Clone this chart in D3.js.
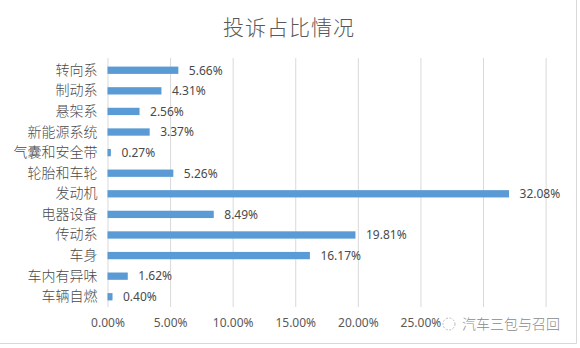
<!DOCTYPE html>
<html>
<head>
<meta charset="utf-8">
<script src="https://cdn.jsdelivr.net/npm/d3@7"></script>
<style>
  html, body { margin: 0; padding: 0; background: #fff; }
  svg { display: block; }
</style>
</head>
<body>
<svg id="chart" width="580" height="348"></svg>
<script>
// Complaint share by vehicle system (%)
const categories = ["转向系", "制动系", "悬架系", "新能源系统", "气囊和安全带", "轮胎和车轮",
                    "发动机", "电器设备", "传动系", "车身", "车内有异味", "车辆自燃"];
const shares = [5.66, 4.31, 2.56, 3.37, 0.27, 5.26, 32.08, 8.49, 19.81, 16.17, 1.62, 0.40];
const gridValues = [0, 5, 10, 15, 20, 25, 30, 35];
const tickLabelValues = [0, 5, 10, 15, 20, 25];
const title = "投诉占比情况";
const watermark = "汽车三包与召回";

const svg = d3.select("#chart");
const plot = { left: 107.5, right: 545.6, top: 60, bottom: 307 };

const x = d3.scaleLinear().domain([0, 35]).range([plot.left, plot.right]);
const y = d3.scaleBand().domain(categories).range([plot.top, plot.bottom]).paddingInner(0.645).paddingOuter(0.32);

// frame
svg.append("line").attr("x1", 0).attr("x2", 576.5).attr("y1", 343.5).attr("y2", 343.5)
  .attr("stroke", "#d9d9d9");
svg.append("line").attr("x1", 576.5).attr("x2", 576.5).attr("y1", 0).attr("y2", 343.5)
  .attr("stroke", "#d9d9d9");

// title
svg.append("text").attr("x", 289).attr("y", 35).attr("text-anchor", "middle")
  .attr("font-family", "'Noto Sans CJK SC', sans-serif").attr("font-size", 21).attr("font-weight", 300)
  .attr("letter-spacing", 1).attr("fill", "#595959").text(title);

// vertical gridlines
const grid = svg.append("g").attr("transform", `translate(0,${plot.bottom})`)
  .call(d3.axisBottom(x).tickValues(gridValues).tickSize(-(plot.bottom - plot.top + 2)).tickFormat(""));
grid.select(".domain").remove();
grid.selectAll(".tick line").attr("stroke", "#d9d9d9");

// tick labels
const xAxis = svg.append("g").attr("transform", `translate(0,${plot.bottom})`)
  .call(d3.axisBottom(x).tickValues(tickLabelValues).tickSize(0).tickPadding(11)
    .tickFormat(d => d.toFixed(2) + "%"));
xAxis.select(".domain").remove();
xAxis.selectAll("text").attr("font-family", "'Noto Sans', sans-serif").attr("font-size", 12)
  .attr("fill", "#595959");

// category labels
const yAxis = svg.append("g").attr("transform", `translate(${plot.left - 10},0)`)
  .call(d3.axisLeft(y).tickSize(0).tickPadding(0));
yAxis.select(".domain").remove();
yAxis.selectAll("text").attr("font-family", "'Noto Sans CJK SC', sans-serif").attr("font-size", 14)
  .attr("font-weight", 300).attr("fill", "#4a4a4a");

// bars
const rows = categories.map((c, i) => ({ c, v: shares[i] }));
svg.append("g").selectAll("rect").data(rows).join("rect")
  .attr("x", x(0)).attr("y", d => y(d.c)).attr("width", d => x(d.v) - x(0))
  .attr("height", y.bandwidth()).attr("fill", "#5b9bd5");

// value labels
svg.append("g").selectAll("text").data(rows).join("text")
  .attr("x", d => x(d.v) + 10.5).attr("y", d => y(d.c) + y.bandwidth() / 2).attr("dy", "0.36em")
  .attr("font-family", "'Noto Sans', sans-serif").attr("font-size", 12).attr("fill", "#4a4a4a")
  .text(d => d.v.toFixed(2) + "%");

// account watermark
const wm = svg.append("g");
wm.append("circle").attr("cx", 449).attr("cy", 324).attr("r", 6).attr("fill", "none")
  .attr("stroke", "#bbb").attr("stroke-width", 1).attr("stroke-dasharray", "2,1.5");
wm.append("text").attr("x", 462).attr("y", 329).attr("font-family", "'Noto Sans CJK SC', sans-serif")
  .attr("font-size", 14).attr("font-weight", 300).attr("fill", "#8a8a8a").text(watermark);
</script>
</body>
</html>
